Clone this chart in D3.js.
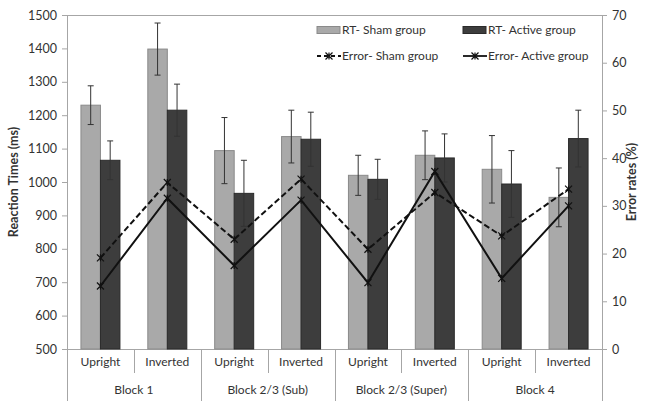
<!DOCTYPE html>
<html><head><meta charset="utf-8">
<script src="https://cdn.jsdelivr.net/npm/d3@7"></script>
<style>body{margin:0;background:#fff}svg{display:block}text{font-family:Lato,"Open Sans",sans-serif}</style>
</head><body><svg id="c" width="648" height="401"></svg>
<script>
const blocks = ["Block 1","Block 2/3 (Sub)","Block 2/3 (Super)","Block 4"];
const conditions = ["Upright","Inverted"];
const categories = ["B1-U","B1-I","Sub-U","Sub-I","Sup-U","Sup-I","B4-U","B4-I"];
const rtSham = [1230,1398,1094,1136,1020,1080,1038,954];
const rtShamErr = [58,78,99,79,60,73,101,88];
const rtActive = [1065,1215,966,1128,1008,1072,994,1130];
const rtActiveErr = [58,78,99,81,60,72,100,85];
const errSham = [19.1,34.9,23.0,35.6,20.9,32.8,23.7,33.5];
const errActive = [13.2,31.6,17.5,31.2,13.9,37.2,14.8,30.0];
const rtTicks = [500,600,700,800,900,1000,1100,1200,1300,1400,1500];
const errTicks = [0,10,20,30,40,50,60,70];
const seriesNames = ["RT- Sham group","RT- Active group","Error- Sham group","Error- Active group"];

const svg = d3.select("#c");
const L=67, R=602, T=15, B=349;
const x = d3.scaleBand().domain(categories).range([L,R]).padding(0);
const x1 = d3.scaleBand().domain(["sham","active"]).range([0,x.bandwidth()]).paddingInner(0).paddingOuter(0.715);
const y = d3.scaleLinear().domain([500,1500]).range([B,T]);
const y2 = d3.scaleLinear().domain([0,70]).range([B,T]);
const axisCol="#a6a6a6", textCol="#333";

svg.append("line").attr("x1",L).attr("x2",R).attr("y1",T+0.5).attr("y2",T+0.5).attr("stroke",axisCol);

const gl = svg.append("g").attr("transform",`translate(${L},0)`).call(d3.axisLeft(y).tickValues(rtTicks).tickFormat(d3.format("d")).tickSize(5).tickSizeOuter(0));
const gr = svg.append("g").attr("transform",`translate(${R},0)`).call(d3.axisRight(y2).tickValues(errTicks).tickFormat(d3.format("d")).tickSize(5).tickSizeOuter(0));
[gl,gr].forEach(g=>{
  g.select(".domain").attr("stroke",axisCol);
  g.selectAll(".tick line").attr("stroke",axisCol);
  g.selectAll(".tick text").attr("fill",textCol).style("font-size","12.5px").style("font-family","Lato,sans-serif");
});
gl.select(".domain").remove();
svg.append("line").attr("x1",L+0.5).attr("x2",L+0.5).attr("y1",T).attr("y2",401).attr("stroke",axisCol);
gl.selectAll(".tick text").attr("x",-10);
gr.selectAll(".tick text").attr("x",10);

svg.append("line").attr("x1",L).attr("x2",R).attr("y1",B+0.5).attr("y2",B+0.5).attr("stroke",axisCol);
categories.forEach((c,i)=>{
  if(i===0) return;
  const xx = Math.round(x(c))+0.5;
  svg.append("line").attr("x1",xx).attr("x2",xx).attr("y1",B).attr("y2", i%2===0?401:373).attr("stroke",axisCol);
});
svg.append("line").attr("x1",R+0.5).attr("x2",R+0.5).attr("y1",B).attr("y2",401).attr("stroke",axisCol);
categories.forEach((c,i)=>{
  svg.append("text").attr("x",x(c)+x.bandwidth()/2).attr("y",366).attr("text-anchor","middle")
    .attr("fill",textCol).style("font-size","12px").text(conditions[i%2]);
});
blocks.forEach((b,i)=>{
  const cx = x(categories[2*i+1]);
  svg.append("text").attr("x",cx).attr("y",394).attr("text-anchor","middle")
    .attr("fill",textCol).style("font-size","12px").text(b);
});

svg.append("text").attr("transform",`translate(18,${(T+B)/2}) rotate(-90)`).attr("text-anchor","middle")
  .attr("fill",textCol).style("font-size","12.5px").style("font-weight","bold").text("Reaction Times (ms)");
svg.append("text").attr("transform",`translate(636,${(T+B)/2}) rotate(-90)`).attr("text-anchor","middle")
  .attr("fill",textCol).style("font-size","12.5px").style("font-weight","bold").text("Error rates (%)");

const bars = [
  {key:"sham", vals:rtSham, errs:rtShamErr, fill:"#a9a9a9", stroke:"#8a8a8a"},
  {key:"active", vals:rtActive, errs:rtActiveErr, fill:"#3d3d3d", stroke:"#2a2a2a"}
];
bars.forEach(s=>{
  const g = svg.append("g");
  g.selectAll("rect").data(categories).join("rect")
    .attr("x",c=>x(c)+x1(s.key)).attr("width",x1.bandwidth())
    .attr("y",(c,i)=>y(s.vals[i])).attr("height",(c,i)=>B-y(s.vals[i]))
    .attr("fill",s.fill).attr("stroke",s.stroke).attr("stroke-width",1);
});
bars.forEach(s=>{
  const g = svg.append("g").attr("stroke","#333").attr("stroke-width",1);
  categories.forEach((c,i)=>{
    const cx = x(c)+x1(s.key)+x1.bandwidth()/2;
    const y1 = y(s.vals[i]+s.errs[i]), y0 = y(s.vals[i]-s.errs[i]);
    g.append("line").attr("x1",cx).attr("x2",cx).attr("y1",y1).attr("y2",y0);
    g.append("line").attr("x1",cx-3).attr("x2",cx+3).attr("y1",y1).attr("y2",y1);
    g.append("line").attr("x1",cx-3).attr("x2",cx+3).attr("y1",y0).attr("y2",y0);
  });
});

function marker(g,cx,cy){
  const s=3.5;
  g.append("path").attr("d",`M${cx-s},${cy-s}L${cx+s},${cy+s}M${cx-s},${cy+s}L${cx+s},${cy-s}M${cx},${cy-s}L${cx},${cy+s}`)
   .attr("stroke","#111").attr("stroke-width",1.2).attr("fill","none");
}
const lineGen = d3.line().x((d,i)=>x(categories[i])+x.bandwidth()/2).y(d=>y2(d));
[{vals:errSham,dash:"6,3"},{vals:errActive,dash:null}].forEach(s=>{
  svg.append("path").attr("d",lineGen(s.vals)).attr("fill","none").attr("stroke","#111")
    .attr("stroke-width",2).attr("stroke-dasharray",s.dash);
  const g=svg.append("g");
  s.vals.forEach((v,i)=>marker(g,x(categories[i])+x.bandwidth()/2,y2(v)));
});

const lg = svg.append("g");
const leg = [
  {x:317,y:30,type:"rect",fill:"#a9a9a9",stroke:"#8a8a8a",label:seriesNames[0]},
  {x:463,y:30,type:"rect",fill:"#3d3d3d",stroke:"#2a2a2a",label:seriesNames[1]},
  {x:317,y:56,type:"line",dash:"4,3",label:seriesNames[2]},
  {x:463,y:56,type:"line",dash:null,label:seriesNames[3]}
];
leg.forEach(d=>{
  if(d.type==="rect"){
    lg.append("rect").attr("x",d.x).attr("y",d.y-3.5).attr("width",23).attr("height",7).attr("fill",d.fill).attr("stroke",d.stroke);
  } else {
    lg.append("line").attr("x1",d.x).attr("x2",d.x+24).attr("y1",d.y).attr("y2",d.y).attr("stroke","#111").attr("stroke-width",1.8).attr("stroke-dasharray",d.dash);
    marker(lg,d.x+12,d.y);
  }
  lg.append("text").attr("x",d.x+25).attr("y",d.y+4).attr("fill",textCol).style("font-size","12px").text(d.label);
});
</script></body></html>
